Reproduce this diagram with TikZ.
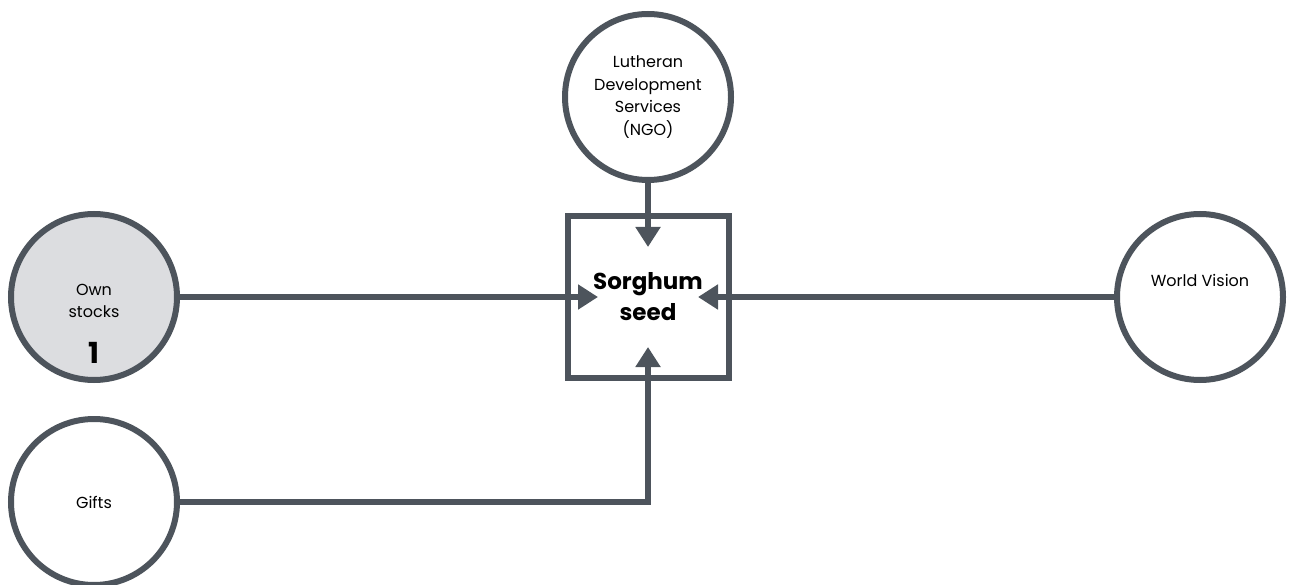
\documentclass[tikz,border=0pt]{standalone}
\usepackage{fontspec}
\setmainfont{Poppins}
\usetikzlibrary{positioning,arrows.meta}

\definecolor{ink}{HTML}{4D545C}
\definecolor{stockfill}{HTML}{DCDDE0}

\tikzset{
 source/.style={circle,draw=ink,line width=6pt,fill=white,minimum size=166pt,inner sep=0pt,
  align=center,font=\fontsize{16}{22.5}\selectfont},
 seedbox/.style={rectangle,draw=ink,line width=6pt,minimum size=161pt,inner sep=0pt,
  align=center,font=\bfseries\fontsize{23}{31}\selectfont},
 flow/.style={draw=ink,line width=6pt,-{Triangle[length=20pt,width=24pt]}},
}

\begin{document}
\begin{tikzpicture}[x=1pt,y=-1pt]
\useasboundingbox (0,0) rectangle (1290,585);

\def\tip{50} % arrow tips stop this far from the box centre

% centre
\node[seedbox] (seed) at (648,297) {Sorghum\\seed};
\coordinate (tipN) at ([yshift=\tip]seed.center);
\coordinate (tipS) at ([yshift=-\tip]seed.center);
\coordinate (tipW) at ([xshift=-\tip]seed.center);
\coordinate (tipE) at ([xshift=\tip]seed.center);

% sources
\node[source] (lds) at (648,97) {Lutheran\\Development\\Services\\(NGO)};
\node[source,fill=stockfill] (own) at (94,297) {};
\node[font=\fontsize{16}{22.5}\selectfont,align=center] (ownlbl) at ([yshift=-4]own.center) {Own\\stocks};
\node[font=\bfseries\fontsize{29}{30}\selectfont] (ownnum) at ([yshift=-56]own.center) {1};
\node[source] (gifts) at (94,502) {Gifts};
\node[source] (wv) at (1200,297) {};
\node[font=\fontsize{16}{22.5}\selectfont] (wvlbl) at ([yshift=17]wv.center) {World Vision};

% flows
\draw[flow] (lds) -- (tipN);
\draw[flow] (own) -- (tipW);
\draw[flow] (wv) -- (tipE);
\draw[flow] (gifts.east) -| (tipS);

\end{tikzpicture}
\end{document}
